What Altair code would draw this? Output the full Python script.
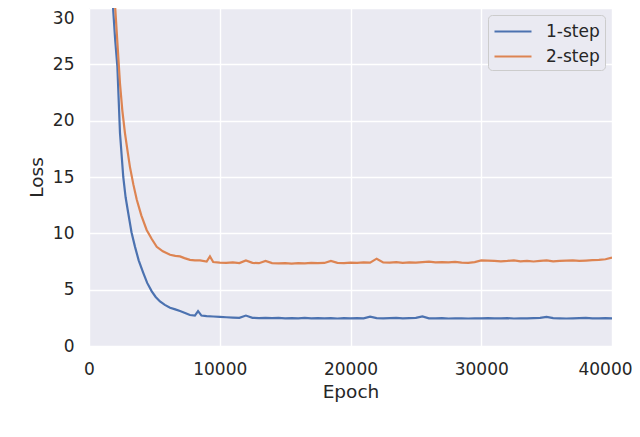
import altair as alt
import pandas as pd

# ---- data ----
series_names = ["1-step", "2-step"]
series_colors = ["#4C72B0", "#DD8452"]

blue_epoch_early = [1500, 1835, 2000, 2170, 2370, 2620, 2800, 3000, 3250, 3520,
                    3800, 4150, 4450, 4800, 5100, 5430, 5800, 6200, 6600, 6960,
                    7300, 7720, 8100, 8340, 8600, 9000, 9500]
blue_loss_early = [40, 30.1, 27.2, 24.8, 18.9, 15.0, 13.2, 11.8, 10.1, 8.8,
                   7.6, 6.5, 5.6, 4.85, 4.35, 3.95, 3.65, 3.4, 3.25, 3.1,
                   2.95, 2.75, 2.7, 3.1, 2.7, 2.65, 2.62]

orange_epoch_early = [1650, 2000, 2200, 2370, 2550, 2750, 2950, 3130, 3400, 3650,
                      4000, 4410, 4800, 5180, 5650, 6200, 6600, 6960, 7300, 7720,
                      8100, 8490, 9000, 9250, 9500]
orange_loss_early = [40, 30.1, 26.4, 23.3, 20.9, 18.9, 17.3, 15.9, 14.3, 13.0,
                     11.6, 10.3, 9.5, 8.8, 8.4, 8.1, 8.0, 7.95, 7.8, 7.65,
                     7.6, 7.6, 7.5, 7.95, 7.45]

late_epoch = list(range(10000, 40001, 500))
blue_loss_late = [2.58, 2.55, 2.52, 2.5, 2.7, 2.5, 2.48, 2.5, 2.47, 2.5,
                  2.46, 2.48, 2.45, 2.5, 2.46, 2.48, 2.45, 2.47, 2.44, 2.48,
                  2.45, 2.47, 2.45, 2.6, 2.47, 2.45, 2.48, 2.5, 2.46, 2.48,
                  2.5, 2.62, 2.46, 2.45, 2.47, 2.44, 2.46, 2.45, 2.44, 2.46,
                  2.45, 2.48, 2.46, 2.45, 2.47, 2.44, 2.46, 2.45, 2.47, 2.5,
                  2.58, 2.48, 2.46, 2.44, 2.45, 2.47, 2.5, 2.46, 2.45, 2.47,
                  2.45]
orange_loss_late = [7.4, 7.38, 7.42, 7.36, 7.6, 7.38, 7.35, 7.55, 7.36, 7.33,
                    7.35, 7.32, 7.36, 7.34, 7.38, 7.35, 7.37, 7.55, 7.38, 7.36,
                    7.4, 7.38, 7.42, 7.4, 7.75, 7.42, 7.4, 7.44, 7.38, 7.42,
                    7.4, 7.45, 7.48, 7.42, 7.45, 7.43, 7.47, 7.4, 7.38, 7.45,
                    7.6, 7.58, 7.55, 7.52, 7.55, 7.6, 7.52, 7.55, 7.5, 7.55,
                    7.6, 7.52, 7.55, 7.58, 7.6, 7.55, 7.58, 7.62, 7.65, 7.7,
                    7.85]

x_ticks = [0, 10000, 20000, 30000, 40000]
y_ticks = [0, 5, 10, 15, 20, 25, 30]

rows = []
for e, v in zip(blue_epoch_early + late_epoch, blue_loss_early + blue_loss_late):
    rows.append({"Epoch": e, "Loss": v, "series": series_names[0]})
for e, v in zip(orange_epoch_early + late_epoch, orange_loss_early + orange_loss_late):
    rows.append({"Epoch": e, "Loss": v, "series": series_names[1]})
df = pd.DataFrame(rows)

FONT = "DejaVu Sans"
TXT = "#262626"

chart = alt.Chart(df).mark_line(strokeWidth=2.2, clip=True).encode(
    x=alt.X("Epoch:Q",
            scale=alt.Scale(domain=[0, 40000], nice=False, zero=False),
            axis=alt.Axis(values=x_ticks, title="Epoch", labelFlush=False,
                          labelPadding=15, titlePadding=5, format="d",
                          labelOffset=alt.condition("datum.value == 40000",
                                                    alt.value(-7),
                                                    alt.value(0)))),
    y=alt.Y("Loss:Q",
            scale=alt.Scale(domain=[0, 30], nice=False),
            axis=alt.Axis(values=y_ticks, title="Loss", labelPadding=15,
                          titlePadding=6,
                          labelOffset=alt.condition("datum.value == 30",
                                                    alt.value(2),
                                                    alt.value(0)),
                          labelBaseline=alt.condition("datum.value == 30",
                                                      alt.value("top"),
                                                      alt.value("middle")))),
    color=alt.Color("series:N",
                    scale=alt.Scale(domain=series_names, range=series_colors),
                    legend=alt.Legend(title=None, orient="top-right", offset=7,
                                      fillColor="#EAEAF2", strokeColor="#cccccc",
                                      cornerRadius=4, padding=5,
                                      labelFontSize=17, labelFont=FONT,
                                      labelColor=TXT,
                                      symbolType="M-1,0L2.7,0", symbolSize=400,
                                      symbolStrokeWidth=2.2, labelOffset=30,
                                      rowPadding=5)),
    detail="series:N",
).properties(
    width=523, height=338,
    autosize=alt.AutoSizeParams(type="none"),
    padding={"left": 81, "top": 0, "right": 20, "bottom": 70},
).configure_view(
    fill="#EAEAF2", strokeWidth=0
).configure_axis(
    domain=False, ticks=False, grid=True, gridColor="white", gridWidth=1.4,
    labelFont=FONT, labelFontSize=17, labelColor=TXT,
    titleFont=FONT, titleFontSize=18.5, titleColor=TXT, titleFontWeight="normal",
)

chart.save("out.html", embed_options={"renderer": "svg", "actions": False})
